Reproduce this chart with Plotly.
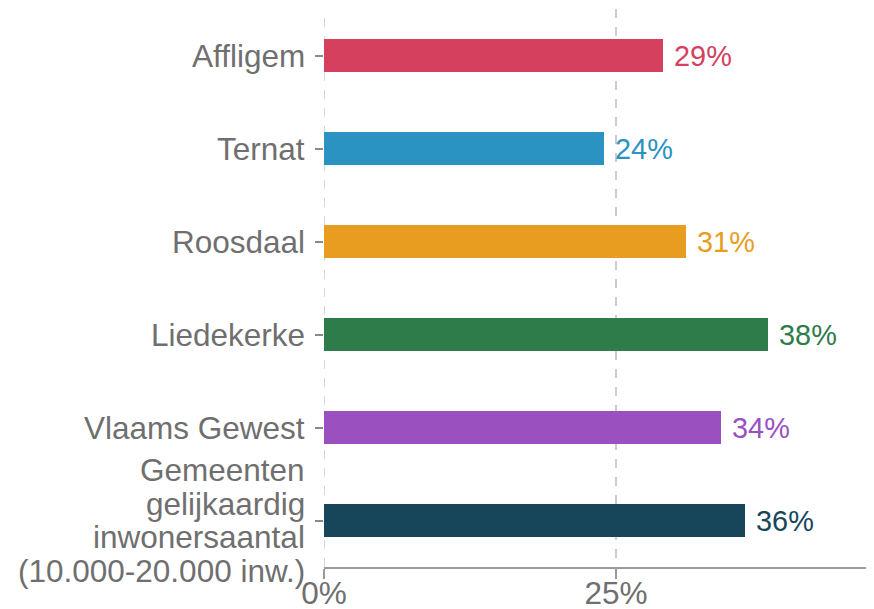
import plotly.graph_objects as go

categories = ["Affligem", "Ternat", "Roosdaal", "Liedekerke", "Vlaams Gewest",
              "Gemeenten gelijkaardig inwonersaantal (10.000-20.000 inw.)"]
category_lines = [["Affligem"], ["Ternat"], ["Roosdaal"], ["Liedekerke"], ["Vlaams Gewest"],
                  ["Gemeenten", "gelijkaardig", "inwonersaantal", "(10.000-20.000 inw.)"]]
values = [29, 24, 31, 38, 34, 36]
colors = ["#d6405f", "#2a93c1", "#e89d21", "#2e7c4a", "#9b50bf", "#17465b"]
x_ticks = [0, 25]
x_ticklabels = ["0%", "25%"]

FONT = "Liberation Sans, Arial, sans-serif"
FS = 31.5
GREY = "#6f6f6f"

fig = go.Figure()
for c, v, col in zip(categories, values, colors):
    fig.add_trace(go.Bar(
        x=[v], y=[c], orientation="h",
        marker=dict(color=col, line=dict(width=0)),
        width=0.345,
        text=["\u00a0" + f"{v}%"], textposition="outside", cliponaxis=False,
        textfont=dict(color=col, size=FS, family=FONT),
        showlegend=False, hoverinfo="skip",
    ))

# y tick labels as annotations (tighter line spacing for multi-line label)
LINE_H = 33.4
for c, lines in zip(categories, category_lines):
    n = len(lines)
    for i, ln in enumerate(lines):
        fig.add_annotation(
            x=0, xref="paper", y=c, yref="y", text=ln, showarrow=False,
            xanchor="right", yanchor="middle", xshift=-17,
            yshift=((n - 1) / 2 - i) * LINE_H,
            font=dict(size=FS, color=GREY, family=FONT),
        )

fig.add_vline(x=0, line=dict(color="#cccccc", width=1.5, dash="dash"), layer="below")

fig.update_layout(
    width=866, height=601,
    margin=dict(l=316, r=8, t=1, b=42),
    paper_bgcolor="white", plot_bgcolor="white",
    font=dict(family=FONT, size=FS, color=GREY),
    bargap=0,
)
fig.update_xaxes(
    range=[0, 46.4], tickvals=x_ticks, ticktext=x_ticklabels,
    showgrid=True, gridcolor="#cccccc", griddash="dash", gridwidth=1.5,
    showline=True, linecolor="#9a9a9a", linewidth=2,
    ticks="outside", ticklen=10, tickcolor="#9a9a9a", tickwidth=1.5,
    zeroline=False, tickfont=dict(size=FS, color=GREY), automargin=False,
    ticklabelstandoff=-13,
)
fig.update_yaxes(
    categoryorder="array", categoryarray=categories[::-1],
    range=[-0.5, len(categories) - 0.5],
    showgrid=False, showline=False, zeroline=False,
    ticks="outside", ticklen=8, tickcolor="#8a8a8a", tickwidth=1.5,
    showticklabels=False, automargin=False,
)

fig.write_html("out.html")
